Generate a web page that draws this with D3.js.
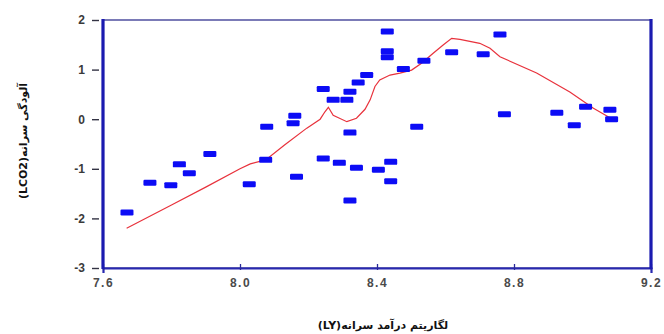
<!DOCTYPE html>
<html>
<head>
<meta charset="utf-8">
<script src="https://cdn.jsdelivr.net/npm/d3@7"></script>
<style>
  html, body { margin: 0; padding: 0; background: #ffffff; }
  svg { display: block; }
</style>
</head>
<body>
<svg id="chart" width="664" height="334"></svg>
<script>
// Log income per capita (LY) vs log pollution per capita (LCO2)
const pointX = [7.670, 7.737, 7.798, 7.823, 7.852, 7.912, 8.027, 8.075, 8.078, 8.155,
                8.160, 8.165, 8.243, 8.243, 8.272, 8.290, 8.312, 8.321, 8.321, 8.321,
                8.340, 8.345, 8.370, 8.404, 8.430, 8.430, 8.430, 8.440, 8.440, 8.477,
                8.516, 8.537, 8.618, 8.710, 8.759, 8.772, 8.925, 8.976, 9.009, 9.080, 9.085];
const pointY = [-1.88, -1.28, -1.33, -0.91, -1.09, -0.70, -1.31, -0.82, -0.15, -0.08,
                 0.07, -1.16,  0.61, -0.79,  0.39, -0.88,  0.39,  0.555, -0.27, -1.64,
                -0.98,  0.74,  0.89, -1.02,  1.77,  1.37,  1.25, -0.86, -1.25,  1.01,
                -0.15,  1.18,  1.35,  1.31,  1.71,  0.10,  0.13, -0.12,  0.25,  0.19, 0.00];

// Smoothed (LOWESS) fit
const fitX = [7.669, 7.800, 7.900, 8.000, 8.030, 8.075, 8.130, 8.195, 8.234, 8.248,
              8.258, 8.272, 8.312, 8.340, 8.365, 8.380, 8.394, 8.408, 8.438, 8.467,
              8.501, 8.530, 8.564, 8.594, 8.618, 8.642, 8.700, 8.730, 8.759, 8.866,
              8.963, 9.032, 9.075, 9.089];
const fitY = [-2.20, -1.73, -1.37, -1.00, -0.90, -0.82, -0.52, -0.18, 0.00, 0.15,
               0.24,  0.08, -0.05,  0.02,  0.20,  0.39,  0.66, 0.79, 0.89, 0.93,
               0.99,  1.13,  1.33,  1.50,  1.63,  1.61,  1.53, 1.43, 1.26, 0.93,
               0.55,  0.22,  0.05,  0.00];

const xTicks = [7.6, 8.0, 8.4, 8.8, 9.2];
const yTicks = [2, 1, 0, -1, -2, -3];
const xTitle = "لگاریتم درآمد سرانه(LY)";
const yTitle = "آلودگی سرانه(LCO2)";

const svg = d3.select("#chart");
const plotL = 103, plotR = 651, plotT = 20, plotB = 268;

const x = d3.scaleLinear().domain([7.6, 9.2]).range([plotL, plotR]);
const y = d3.scaleLinear().domain([-3, 2]).range([plotB, plotT]);

// Plot frame (thin, lighter top edge)
svg.append("rect")
  .attr("x", x(7.6)).attr("y", y(2))
  .attr("width", x(9.2) - x(7.6)).attr("height", y(-3) - y(2))
  .attr("fill", "none")
  .attr("stroke", "#5a5aa6")
  .attr("stroke-width", 1.6);

// Fitted curve
const fitLine = d3.line().x((d, i) => x(fitX[i])).y((d, i) => y(fitY[i]));
svg.append("path")
  .datum(fitX)
  .attr("d", fitLine)
  .attr("fill", "none")
  .attr("stroke", "#e8323c")
  .attr("stroke-width", 1.2);

// Observations drawn as small blue dashes
const mw = 13, mh = 6;
svg.append("g").selectAll("rect")
  .data(pointX)
  .join("rect")
  .attr("x", (d) => x(d) - mw / 2)
  .attr("y", (d, i) => y(pointY[i]) - mh / 2)
  .attr("width", mw)
  .attr("height", mh)
  .attr("rx", 1.2)
  .attr("fill", "#0c0cf5");

// Axes
const gy = svg.append("g").attr("transform", `translate(${plotL - 2},0)`)
  .call(d3.axisLeft(y).tickValues(yTicks).tickFormat(d3.format("d")).tickSize(10).tickPadding(6));
gy.select(".domain").remove();
gy.selectAll(".tick line").attr("stroke", "#333344").attr("stroke-width", 1.4)
  .attr("x2", -9).attr("x1", -2);
gy.selectAll(".tick text")
  .attr("font-family", "Arial, 'Liberation Sans', sans-serif")
  .attr("font-size", 12).attr("font-weight", "bold").attr("fill", "#3a3a3a")
  .text((d) => d < 0 ? "-" + Math.abs(d) : d);

const gx = svg.append("g").attr("transform", `translate(0,${plotB})`)
  .call(d3.axisBottom(x).tickValues(xTicks).tickFormat(d3.format(".1f")).tickSize(5).tickPadding(5));
gx.select(".domain").attr("stroke", "#2828b0").attr("stroke-width", 2.2);
gx.selectAll(".tick line").attr("stroke", "#2a2a9a").attr("stroke-width", 1.3)
  .attr("y1", -4).attr("y2", 2);
gx.selectAll(".tick text")
  .attr("font-family", "Arial, 'Liberation Sans', sans-serif")
  .attr("font-size", 12).attr("font-weight", "bold").attr("fill", "#4a4a4a")
  .attr("letter-spacing", 1.5);

// Heavier left and right edges
svg.append("path")
  .attr("d", `M${x(7.6)},${y(2) - 1}V${y(-3) + 1}M${x(9.2)},${y(2) - 1}V${y(-3) + 1}`)
  .attr("fill", "none")
  .attr("stroke", "#1a1ab0")
  .attr("stroke-width", 3.2);

// Axis titles
svg.append("text")
  .attr("x", 383).attr("y", 329)
  .attr("text-anchor", "middle")
  .attr("direction", "rtl")
  .attr("font-family", "'DejaVu Sans', sans-serif")
  .attr("font-size", 11).attr("font-weight", "bold").attr("fill", "#111")
  .text(xTitle);

svg.append("text")
  .attr("transform", "translate(27,141) rotate(-90)")
  .attr("text-anchor", "middle")
  .attr("direction", "rtl")
  .attr("font-family", "'DejaVu Sans', sans-serif")
  .attr("font-size", 11).attr("font-weight", "bold").attr("fill", "#111")
  .text(yTitle);
</script>
</body>
</html>
